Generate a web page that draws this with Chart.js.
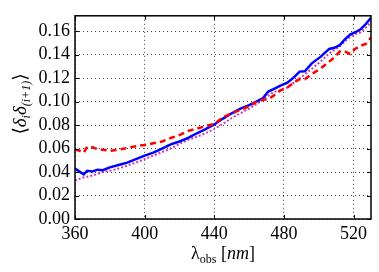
<!DOCTYPE html>
<html>
<head>
<meta charset="utf-8">
<script src="https://cdn.jsdelivr.net/npm/chart.js@4"></script>
<style>
  body { margin: 0; background: #fff; }
  canvas { display: block; }
</style>
</head>
<body>
<canvas id="myChart" width="379" height="272"></canvas>
<script>
// wavelength (nm)
var wavelengths = [360, 362, 364, 365, 367, 370, 373, 376, 380, 385, 390, 395, 400, 405, 410, 415, 420, 425, 430, 435, 440, 445, 450, 455, 460, 465, 468, 471, 474, 478, 482, 486, 489, 492, 496, 501, 506, 509, 512, 515, 518, 521, 524, 527, 530];
// solid blue
var blueValues = [0.043, 0.041, 0.039, 0.038, 0.041, 0.0405, 0.042, 0.0415, 0.044, 0.046, 0.048, 0.051, 0.054, 0.0565, 0.060, 0.0635, 0.066, 0.069, 0.073, 0.0765, 0.0805, 0.0855, 0.090, 0.094, 0.097, 0.1005, 0.103, 0.1085, 0.1105, 0.1135, 0.116, 0.121, 0.1255, 0.1258, 0.1325, 0.138, 0.1448, 0.1458, 0.148, 0.153, 0.157, 0.159, 0.1615, 0.166, 0.1712];
// dashed red
var redValues = [0.059, 0.0585, 0.057, 0.0565, 0.0615, 0.061, 0.0595, 0.059, 0.058, 0.059, 0.0605, 0.062, 0.063, 0.0645, 0.066, 0.069, 0.0715, 0.075, 0.077, 0.079, 0.081, 0.0865, 0.090, 0.093, 0.096, 0.1005, 0.1015, 0.102, 0.105, 0.1095, 0.112, 0.1165, 0.119, 0.119, 0.1235, 0.128, 0.134, 0.1375, 0.1425, 0.1425, 0.1405, 0.145, 0.1475, 0.149, 0.1545];
// dotted magenta
var magentaValues = [0.0327, 0.034, 0.035, 0.0355, 0.036, 0.037, 0.0385, 0.040, 0.041, 0.043, 0.0455, 0.048, 0.051, 0.054, 0.057, 0.060, 0.064, 0.0675, 0.070, 0.073, 0.0767, 0.081, 0.086, 0.090, 0.094, 0.0985, 0.1015, 0.105, 0.108, 0.1095, 0.112, 0.1165, 0.120, 0.123, 0.128, 0.134, 0.141, 0.144, 0.147, 0.151, 0.155, 0.1575, 0.159, 0.163, 0.1675];

var xTicks = [360, 400, 440, 480, 520];
var yTicks = [0.00, 0.02, 0.04, 0.06, 0.08, 0.10, 0.12, 0.14, 0.16];

function toPoints(values) {
  return wavelengths.map(function (w, i) { return { x: w, y: values[i] }; });
}

var serif = "'Liberation Serif', 'DejaVu Serif', serif";

// frame, inward tick marks and the math-style axis titles
var decorPlugin = {
  id: "decor",
  afterDraw: function (chart) {
    var ctx = chart.ctx;
    var a = chart.chartArea;
    var xs = chart.scales.x, ys = chart.scales.y;
    ctx.save();
    ctx.strokeStyle = "#000";
    ctx.lineWidth = 1;
    xTicks.forEach(function (t) {
      var px = Math.round(xs.getPixelForValue(t)) + 0.5;
      ctx.beginPath();
      ctx.moveTo(px, a.bottom); ctx.lineTo(px, a.bottom - 4);
      ctx.moveTo(px, a.top); ctx.lineTo(px, a.top + 4);
      ctx.stroke();
    });
    yTicks.forEach(function (t) {
      var py = Math.round(ys.getPixelForValue(t)) + 0.5;
      ctx.beginPath();
      ctx.moveTo(a.left, py); ctx.lineTo(a.left + 4, py);
      ctx.moveTo(a.right, py); ctx.lineTo(a.right - 4, py);
      ctx.stroke();
    });
    ctx.lineWidth = 1.5;
    ctx.strokeRect(a.left, a.top, a.right - a.left, a.bottom - a.top);

    ctx.fillStyle = "#000";
    ctx.textBaseline = "alphabetic";
    ctx.textAlign = "left";

    // x title: lambda_obs [nm]
    var xParts = [
      { t: "\u03bb", f: "18px " + serif, dy: 0 },
      { t: "obs", f: "12px " + serif, dy: 4 },
      { t: " [", f: "18px " + serif, dy: 0 },
      { t: "nm", f: "italic 18px " + serif, dy: 0 },
      { t: "]", f: "18px " + serif, dy: 0 }
    ];
    drawParts(ctx, xParts, (a.left + a.right) / 2, 259);

    // y title: <delta_i delta_(i+1)>
    var yParts = [
      { t: "\u27e8", f: "19px 'DejaVu Serif', serif", dy: 0 },
      { t: "\u03b4", f: "italic 19px " + serif, dy: 0 },
      { t: "i", f: "italic 12px " + serif, dy: 4 },
      { t: "\u03b4", f: "italic 19px " + serif, dy: 0 },
      { t: "(i+1)", f: "italic 12px " + serif, dy: 4 },
      { t: "\u27e9", f: "19px 'DejaVu Serif', serif", dy: 0 }
    ];
    ctx.save();
    ctx.translate(26, 104);
    ctx.rotate(-Math.PI / 2);
    drawParts(ctx, yParts, 0, 0);
    ctx.restore();
    ctx.restore();
  }
};

function drawParts(ctx, parts, cx, baseY) {
  var total = 0;
  parts.forEach(function (p) { ctx.font = p.f; total += ctx.measureText(p.t).width; });
  var x = cx - total / 2;
  parts.forEach(function (p) {
    ctx.font = p.f;
    ctx.fillText(p.t, x, baseY + p.dy);
    x += ctx.measureText(p.t).width;
  });
}

window.addEventListener("load", function () {
  var chartdata = document.getElementById("myChart").getContext("2d");
  new Chart(chartdata, {
    type: "line",
    data: {
      datasets: [
        {
          label: "blue",
          data: toPoints(blueValues),
          borderColor: "#0000ff",
          borderWidth: 2.5,
          order: 1
        },
        {
          label: "red",
          data: toPoints(redValues),
          borderColor: "#ff0000",
          borderWidth: 2.5,
          borderDash: [6, 4],
          order: 0
        },
        {
          label: "magenta",
          data: toPoints(magentaValues),
          borderColor: "#bf3fbf",
          borderWidth: 2,
          borderDash: [2, 2],
          order: 2
        }
      ]
    },
    options: {
      responsive: false,
      animation: false,
      events: [],
      elements: { point: { radius: 0 }, line: { tension: 0, fill: false } },
      layout: { padding: { top: 7, right: 8, left: 0, bottom: 0 } },
      plugins: { legend: { display: false }, tooltip: { enabled: false } },
      scales: {
        x: {
          type: "linear",
          min: 360,
          max: 530,
          afterFit: function (s) { s.height = 53; },
          afterBuildTicks: function (s) {
            s.ticks = xTicks.map(function (v) { return { value: v }; });
          },
          ticks: {
            color: "#000",
            padding: 4,
            maxRotation: 0,
            font: { family: serif, size: 18 },
            callback: function (v) { return String(v); }
          },
          grid: { color: "rgba(0,0,0,0.75)", drawTicks: false, lineWidth: 1 },
          border: { display: false, dash: [1, 3] }
        },
        y: {
          type: "linear",
          min: 0,
          max: 0.173,
          afterFit: function (s) { s.width = 75; },
          afterBuildTicks: function (s) {
            s.ticks = yTicks.map(function (v) { return { value: v }; });
          },
          ticks: {
            color: "#000",
            padding: 5,
            font: { family: serif, size: 18 },
            callback: function (v) { return Number(v).toFixed(2); }
          },
          grid: { color: "rgba(0,0,0,0.75)", drawTicks: false, lineWidth: 1 },
          border: { display: false, dash: [1, 3] }
        }
      }
    },
    plugins: [decorPlugin]
  });
});
</script>
</body>
</html>
